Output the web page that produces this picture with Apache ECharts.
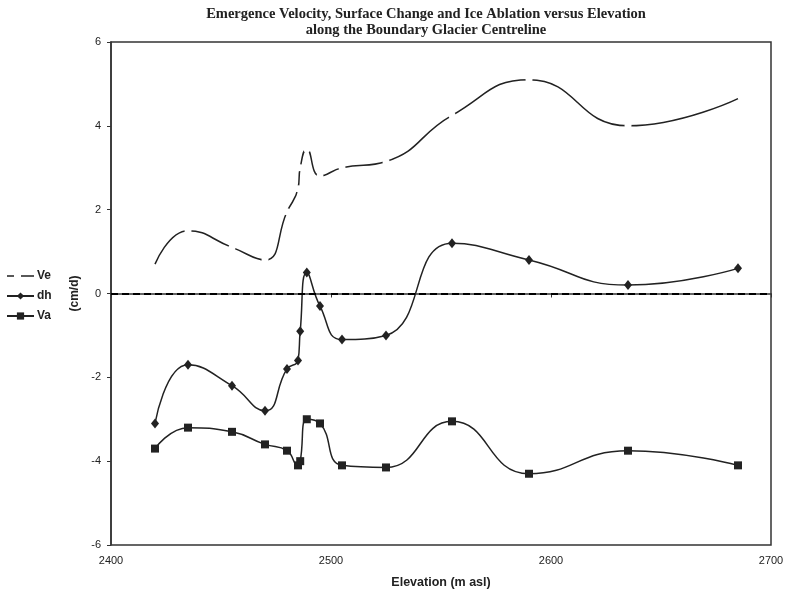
<!DOCTYPE html>
<html>
<head>
<meta charset="utf-8">
<script src="https://cdn.jsdelivr.net/npm/echarts@6/dist/echarts.min.js"></script>
<style>
  html, body { margin: 0; padding: 0; background: #fff; }
  #chart { width: 788px; height: 594px; }
</style>
</head>
<body>
<div id="chart"></div>
<script>
// elevation (m asl) of each sample point along the centreline
const elevation = [2420, 2435, 2455, 2470, 2480, 2485, 2486, 2489, 2495, 2505, 2525, 2555, 2590, 2635, 2685];
// emergence velocity (cm/d)
const ve = [0.7, 1.5, 1.1, 0.8, 1.95, 2.5, 3.0, 3.45, 2.8, 3.0, 3.15, 4.25, 5.1, 4.0, 4.65];
// surface change (cm/d)
const dh = [-3.1, -1.7, -2.2, -2.8, -1.8, -1.6, -0.9, 0.5, -0.3, -1.1, -1.0, 1.2, 0.8, 0.2, 0.6];
// ice ablation (cm/d)
const va = [-3.7, -3.2, -3.3, -3.6, -3.75, -4.1, -4.0, -3.0, -3.1, -4.1, -4.15, -3.05, -4.3, -3.75, -4.1];

const xTicks = { min: 2400, max: 2700, step: 100 };
const yTicks = { min: -6, max: 6, step: 2 };

const pairs = (ys) => elevation.map((x, i) => [x, ys[i]]);

const ink = '#222';
const axisFont = 'Liberation Sans, Arial, sans-serif';

// Excel breaks the dashed Ve line at each interior data point; white dots do the same here
const veData = elevation.map((x, i) => ({
  value: [x, ve[i]],
  symbol: (i === 0 || i === elevation.length - 1) ? 'none' : 'circle'
}));

const chart = echarts.init(document.getElementById('chart'), null, { renderer: 'canvas' });

chart.setOption({
  animation: false,
  title: {
    text: 'Emergence Velocity, Surface Change and Ice Ablation versus Elevation\nalong the Boundary Glacier Centreline',
    left: 421,
    textAlign: 'center',
    top: 1,
    textStyle: {
      fontFamily: 'Liberation Serif, Times New Roman, serif',
      fontWeight: 'bold',
      fontSize: 14.5,
      lineHeight: 16,
      color: ink
    }
  },
  legend: {
    orient: 'vertical',
    left: 1,
    top: 265,
    itemWidth: 27,
    itemHeight: 9,
    itemGap: 8,
    textStyle: { fontFamily: axisFont, fontWeight: 'bold', fontSize: 12, color: ink, padding: [0, 0, 0, -2] },
    data: [
      {
        name: 'Ve',
        icon: 'path://M0,0 M0,3.8h7v1.5H0z M14,3.8h13v1.5H14z M27,9',
        itemStyle: { color: ink, borderWidth: 0 }
      },
      'dh',
      'Va'
    ]
  },
  grid: {
    left: 111, right: 17, top: 42, bottom: 44,
    show: true,
    borderColor: '#333',
    borderWidth: 1.5
  },
  xAxis: {
    type: 'value',
    min: xTicks.min,
    max: xTicks.max,
    interval: xTicks.step,
    name: 'Elevation (m asl)',
    nameLocation: 'middle',
    nameGap: 31,
    nameTextStyle: { fontFamily: axisFont, fontWeight: 'bold', fontSize: 12.5, color: ink },
    axisLine: { lineStyle: { color: '#333', width: 1.5 } },
    axisTick: { show: true, length: 4, lineStyle: { color: '#333' } },
    axisLabel: { fontFamily: axisFont, fontSize: 11, color: ink, margin: 10, formatter: (v) => String(v) },
    splitLine: { show: false }
  },
  yAxis: {
    type: 'value',
    min: yTicks.min,
    max: yTicks.max,
    interval: yTicks.step,
    name: '(cm/d)',
    nameLocation: 'middle',
    nameGap: 28,
    nameTextStyle: { fontFamily: axisFont, fontWeight: 'bold', fontSize: 12, color: ink },
    axisLine: { show: true, lineStyle: { color: '#333', width: 1.5 } },
    axisTick: { show: true, length: 4, lineStyle: { color: '#333' } },
    axisLabel: { fontFamily: axisFont, fontSize: 11, color: ink, margin: 10 },
    splitLine: { show: false }
  },
  series: [
    {
      name: 'Ve',
      type: 'line',
      data: veData,
      smooth: 0.5,
      symbolSize: 7,
      showAllSymbol: true,
      lineStyle: { color: ink, width: 1.5 },
      itemStyle: { color: '#fff', borderWidth: 0 },
      markLine: {
        silent: true,
        symbol: 'none',
        label: { show: false },
        lineStyle: { color: '#000', width: 2, type: [7, 4] },
        data: [{ yAxis: 0 }]
      }
    },
    {
      name: 'dh',
      type: 'line',
      data: pairs(dh),
      smooth: 0.5,
      symbol: 'diamond',
      symbolSize: [8, 10],
      showAllSymbol: true,
      lineStyle: { color: ink, width: 1.5 },
      itemStyle: { color: ink }
    },
    {
      name: 'Va',
      type: 'line',
      data: pairs(va),
      smooth: 0.5,
      symbol: 'rect',
      symbolSize: 8,
      showAllSymbol: true,
      lineStyle: { color: ink, width: 1.5 },
      itemStyle: { color: ink }
    }
  ]
});
</script>
</body>
</html>
